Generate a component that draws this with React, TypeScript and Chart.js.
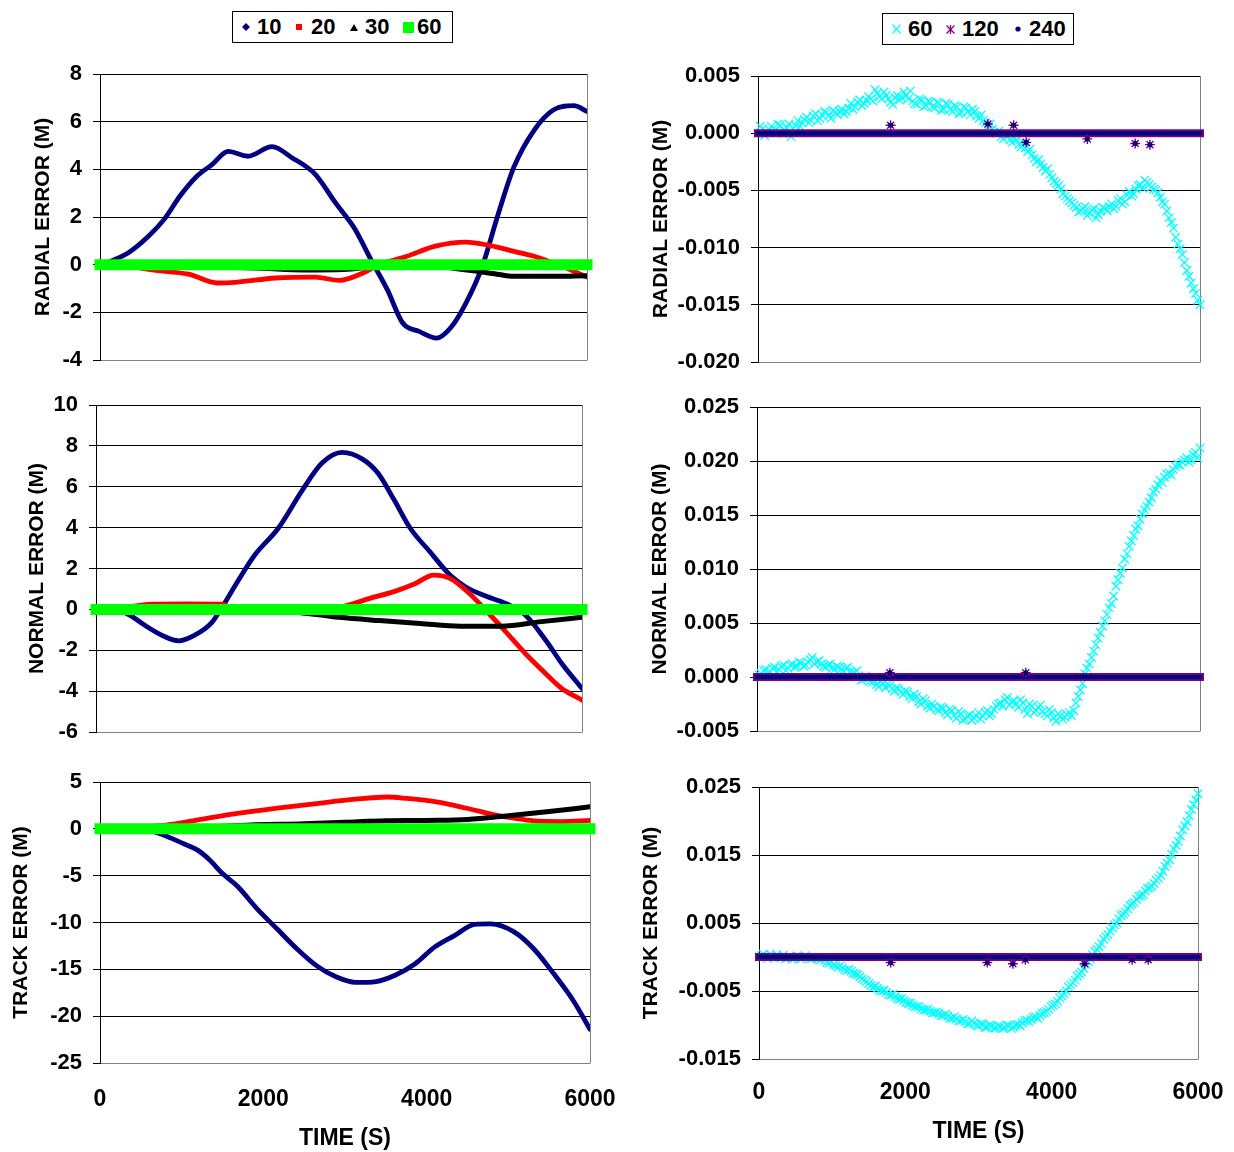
import React, { useEffect, useRef } from "react";
import { Chart, registerables } from "chart.js";

Chart.register(...registerables);

const FONT = "'Liberation Sans', Arial, Helvetica, sans-serif";

// ---------- colours ----------
const NAVY = "#000080";
const RED = "#FF0000";
const BLACK = "#000000";
const GREEN = "#00FF00";
const CYAN = "#00FFFF";
const PURPLE = "#800080";

// ---------- axis ticks ----------
const X_TICKS = [0, 2000, 4000, 6000];
const RAD_L_TICKS = [-4, -2, 0, 2, 4, 6, 8];
const NOR_L_TICKS = [-6, -4, -2, 0, 2, 4, 6, 8, 10];
const TRK_L_TICKS = [-25, -20, -15, -10, -5, 0, 5];
const RAD_R_TICKS = [-0.02, -0.015, -0.01, -0.005, 0, 0.005];
const NOR_R_TICKS = [-0.005, 0, 0.005, 0.01, 0.015, 0.02, 0.025];
const TRK_R_TICKS = [-0.015, -0.005, 0.005, 0.015, 0.025];

// ---------- left column: step sizes 10 / 20 / 30 / 60 ----------
const RAD10_T = [100, 350, 600, 790, 990, 1190, 1380, 1580, 1820, 2120, 2360, 2650, 2900, 3140, 3340, 3540, 3730, 3930, 4150, 4320, 4510, 4710, 4910, 5100, 5350, 5590, 5840, 6000];
const RAD10_V = [0.1, 0.5, 1.2, 1.9, 2.9, 3.7, 4.2, 4.75, 4.55, 4.95, 4.5, 3.8, 2.6, 1.5, 0.2, -1.05, -2.45, -2.8, -3.08, -2.65, -1.6, -0.07, 2.17, 4.1, 5.65, 6.5, 6.67, 6.43];
const RAD20_T = [300, 600, 1090, 1450, 1670, 2160, 2650, 2950, 3240, 3440, 3780, 4120, 4510, 4810, 5100, 5350, 5690, 6000];
const RAD20_V = [0, -0.2, -0.4, -0.77, -0.74, -0.56, -0.52, -0.66, -0.35, 0, 0.35, 0.77, 0.95, 0.8, 0.56, 0.35, -0.07, -0.52];
const RAD30_T = [400, 2000, 2500, 3000, 3500, 4000, 4470, 4860, 5100, 5590, 6000];
const RAD30_V = [0, -0.15, -0.22, -0.2, -0.05, -0.05, -0.2, -0.38, -0.49, -0.49, -0.46];

const NOR10_T = [200, 380, 630, 830, 1020, 1220, 1420, 1560, 1760, 1960, 2250, 2550, 2790, 3040, 3290, 3480, 3680, 3880, 4120, 4370, 4560, 4810, 5060, 5300, 5550, 5750, 6000];
const NOR10_V = [0, -0.2, -0.85, -1.3, -1.54, -1.26, -0.69, 0.13, 1.44, 2.66, 3.97, 5.85, 7.16, 7.68, 7.35, 6.67, 5.36, 3.97, 2.83, 1.68, 1.11, 0.65, 0.29, -0.28, -1.5, -2.65, -3.87];
const NOR20_T = [200, 700, 1100, 1560, 1700, 2500, 3040, 3380, 3680, 3930, 4170, 4370, 4610, 4810, 5060, 5300, 5550, 5750, 6000];
const NOR20_V = [0, 0.25, 0.27, 0.25, 0.05, 0, 0.13, 0.54, 0.87, 1.24, 1.68, 1.52, 0.78, -0.03, -1.1, -2.16, -3.14, -3.87, -4.44];
const NOR30_T = [1500, 2500, 3000, 3500, 4000, 4500, 5000, 5500, 6000];
const NOR30_V = [0, -0.15, -0.39, -0.55, -0.69, -0.82, -0.82, -0.6, -0.39];

const TRK10_T = [0, 600, 760, 1000, 1200, 1340, 1490, 1680, 1930, 2170, 2410, 2650, 2890, 3130, 3380, 3620, 3860, 4100, 4340, 4590, 4780, 5070, 5310, 5550, 5800, 6000];
const TRK10_V = [0, -0.2, -0.6, -1.5, -2.3, -3.3, -4.7, -6.1, -8.6, -10.7, -12.8, -14.6, -15.8, -16.4, -16.3, -15.6, -14.4, -12.6, -11.4, -10.2, -10.15, -11.0, -12.8, -15.4, -18.4, -21.4];
const TRK20_T = [0, 810, 1200, 1680, 2170, 2650, 3130, 3520, 3760, 4100, 4490, 4830, 5070, 5310, 5650, 6000];
const TRK20_V = [0, 0.4, 0.95, 1.65, 2.2, 2.7, 3.17, 3.4, 3.24, 2.9, 2.2, 1.5, 1.13, 0.85, 0.78, 0.9];
const TRK30_T = [1000, 1700, 2500, 3000, 3500, 4000, 4500, 5000, 5500, 6000];
const TRK30_V = [0, 0.35, 0.55, 0.7, 0.85, 0.9, 1.0, 1.4, 1.85, 2.35];

const ZERO_T = [0, 6000];
const ZERO_V = [0, 0];

// ---------- right column: step sizes 60 / 120 / 240 ----------
// run "60": samples on the minute (T60) and on the half minute (T30)
const T60 = Array.from({ length: 101 }, (_, i) => i * 60);
const T30 = Array.from({ length: 100 }, (_, i) => 30 + i * 60);

const RAD60_V = [
  0.0, 0.0004, 0.0001, 0.0006, 0.0003, 0.0007, 0.0002, 0.0008, 0.0004, 0.0011,
  0.0009, 0.0014, 0.0011, 0.0017, 0.0013, 0.0019, 0.0015, 0.002, 0.0016, 0.0021,
  0.0019, 0.0026, 0.0023, 0.0029, 0.0026, 0.0032, 0.0028, 0.0035, 0.003, 0.0033,
  0.0027, 0.0031, 0.0029, 0.0036, 0.003, 0.0028, 0.0025, 0.0029, 0.0024, 0.0027,
  0.0022, 0.0026, 0.0021, 0.0025, 0.0019, 0.0023, 0.0018, 0.0022, 0.0016, 0.0019,
  0.0013, 0.0011, 0.0006, 0.0004, 0.0, -0.0003, -0.0001, -0.0006, -0.0004, -0.001,
  -0.0008, -0.0016, -0.0019, -0.0025, -0.0027, -0.0033, -0.0036, -0.0042, -0.0046, -0.0053,
  -0.0057, -0.0061, -0.0065, -0.0068, -0.0064, -0.007, -0.0066, -0.0071, -0.0065, -0.0068,
  -0.0062, -0.0064, -0.0057, -0.006, -0.0051, -0.0053, -0.0046, -0.0048, -0.0043, -0.0047,
  -0.005, -0.0056, -0.0062, -0.0074, -0.0083, -0.0097, -0.0106, -0.012, -0.0131, -0.014, -0.015,
];
const RAD30_HALF_V = [
  0.0006, -0.0002, 0.0003, 0.0001, 0.0008, 0.0, 0.0005, -0.0003, 0.0007, 0.0006,
  0.0012, 0.0009, 0.0015, 0.0011, 0.0016, 0.0018, 0.0013, 0.0018, 0.0019, 0.0017,
  0.0022, 0.0021, 0.0027, 0.0024, 0.0029, 0.003, 0.0038, 0.0032, 0.0036, 0.003,
  0.0025, 0.0033, 0.0031, 0.0033, 0.0037, 0.0026, 0.003, 0.0023, 0.0028, 0.0023,
  0.0027, 0.002, 0.0026, 0.0021, 0.0024, 0.0017, 0.0023, 0.0019, 0.0021, 0.0015,
  0.0016, 0.0009, 0.0008, 0.0001, 0.0002, -0.0005, -0.0003, -0.0008, -0.0006, -0.0012,
  -0.0013, -0.0014, -0.0022, -0.0023, -0.003, -0.0031, -0.0039, -0.0044, -0.0049, -0.0055,
  -0.0059, -0.0063, -0.0069, -0.0066, -0.0072, -0.0067, -0.0074, -0.0068, -0.0066, -0.0064,
  -0.0066, -0.0059, -0.0062, -0.0054, -0.0055, -0.0049, -0.0045, -0.0041, -0.0045, -0.0049,
  -0.0052, -0.006, -0.0068, -0.0078, -0.0091, -0.0101, -0.0113, -0.0125, -0.0136, -0.0146,
];
const NOR60_V = [
  0.0, 0.0003, 0.0007, 0.0005, 0.0009, 0.0007, 0.0011, 0.0008, 0.0012, 0.001,
  0.0013, 0.0011, 0.0016, 0.0012, 0.0015, 0.001, 0.0011, 0.0008, 0.001, 0.0007,
  0.0008, 0.0005, 0.0004, 0.0001, -0.0002, -0.0001, -0.0005, -0.0007, -0.0004, -0.001,
  -0.0008, -0.0013, -0.0011, -0.0016, -0.0014, -0.002, -0.0018, -0.0025, -0.0022, -0.0029,
  -0.0027, -0.0031, -0.0029, -0.0035, -0.0031, -0.0038, -0.0034, -0.0039, -0.0035, -0.0038,
  -0.0033, -0.0036, -0.0031, -0.0034, -0.0027, -0.0024, -0.0021, -0.0026, -0.0022, -0.0028,
  -0.0024, -0.0034, -0.0027, -0.0031, -0.0026, -0.0034, -0.003, -0.0038, -0.0034, -0.0039,
  -0.0035, -0.0036, -0.0024, -0.0012, 0.0003, 0.0012, 0.0024, 0.0036, 0.0047, 0.0058,
  0.0068, 0.0084, 0.0096, 0.0109, 0.0121, 0.0131, 0.014, 0.0151, 0.0158, 0.0166,
  0.0174, 0.0182, 0.0185, 0.0189, 0.0192, 0.0197, 0.0199, 0.0203, 0.0201, 0.0208, 0.0212,
];
const NOR30_HALF_V = [
  0.0002, 0.0006, 0.0003, 0.0008, 0.0005, 0.001, 0.0006, 0.0011, 0.0009, 0.0014,
  0.001, 0.0014, 0.0018, 0.0014, 0.0012, 0.0009, 0.0012, 0.0007, 0.0009, 0.0006,
  0.0009, 0.0003, 0.0006, -0.0003, 0.0001, -0.0004, -0.0003, -0.0009, -0.0006, -0.0007,
  -0.0011, -0.001, -0.0014, -0.0013, -0.0018, -0.0016, -0.0023, -0.002, -0.0027, -0.0025,
  -0.003, -0.0028, -0.0033, -0.003, -0.0036, -0.0032, -0.004, -0.0036, -0.004, -0.0036,
  -0.0039, -0.0033, -0.0036, -0.003, -0.0025, -0.0027, -0.0019, -0.0023, -0.0025, -0.0021,
  -0.003, -0.0025, -0.0033, -0.0028, -0.0032, -0.0036, -0.0033, -0.0041, -0.0036, -0.0037,
  -0.0033, -0.0031, -0.0018, -0.0006, 0.0008, 0.0018, 0.003, 0.0041, 0.0052, 0.0064,
  0.0075, 0.009, 0.0101, 0.0114, 0.0126, 0.0137, 0.0146, 0.0155, 0.0162, 0.0171,
  0.0178, 0.018, 0.0188, 0.0187, 0.0195, 0.0196, 0.0201, 0.0199, 0.0206, 0.0203,
];
const TRK60_V = [
  0.0, 0.0004, -0.0002, 0.0002, 0.0003, -0.0001, -0.0003, 0.0001, -0.0002, 0.0001,
  -0.0001, 0.0, -0.0003, -0.0001, -0.0004, -0.0005, -0.0009, -0.0011, -0.0015, -0.0016,
  -0.002, -0.0021, -0.0025, -0.0029, -0.0034, -0.0039, -0.0044, -0.0046, -0.005, -0.0052,
  -0.0056, -0.0058, -0.0062, -0.0064, -0.0068, -0.0071, -0.0073, -0.0076, -0.0078, -0.008,
  -0.0082, -0.0083, -0.0086, -0.0087, -0.009, -0.0091, -0.0094, -0.0095, -0.0098, -0.0097,
  -0.0101, -0.0099, -0.0103, -0.0101, -0.0104, -0.0102, -0.0104, -0.0101, -0.0103, -0.0099,
  -0.0097, -0.0093, -0.0092, -0.0088, -0.0086, -0.0082, -0.0077, -0.0071, -0.0065, -0.0057,
  -0.005, -0.0041, -0.0034, -0.0025, -0.0017, -0.0007, 0.0003, 0.0011, 0.002, 0.003,
  0.0038, 0.0047, 0.0056, 0.0063, 0.0071, 0.0078, 0.0085, 0.009, 0.0097, 0.0102,
  0.0108, 0.0116, 0.0126, 0.0138, 0.0151, 0.0164, 0.0178, 0.0193, 0.0208, 0.0224, 0.024,
];
const TRK30_HALF_V = [
  0.0002, 0.0, 0.0004, -0.0001, 0.0, 0.0003, -0.0001, -0.0003, 0.0001, -0.0003,
  0.0002, -0.0002, 0.0, -0.0003, -0.0002, -0.0008, -0.0007, -0.0013, -0.0013, -0.0019,
  -0.0018, -0.0024, -0.0026, -0.0032, -0.0036, -0.0042, -0.0043, -0.0049, -0.0049, -0.0055,
  -0.0055, -0.0061, -0.0061, -0.0067, -0.0068, -0.0073, -0.0073, -0.0078, -0.0077, -0.0082,
  -0.0081, -0.0086, -0.0084, -0.009, -0.0088, -0.0094, -0.0092, -0.0098, -0.0094, -0.01,
  -0.0098, -0.0104, -0.01, -0.0105, -0.0101, -0.0105, -0.01, -0.0105, -0.01, -0.0101,
  -0.0094, -0.0095, -0.0089, -0.009, -0.0083, -0.008, -0.0073, -0.0069, -0.006, -0.0054,
  -0.0044, -0.0038, -0.0028, -0.0022, -0.0011, -0.0003, 0.0008, 0.0015, 0.0026, 0.0033,
  0.0043, 0.005, 0.0061, 0.0066, 0.0076, 0.008, 0.0089, 0.0092, 0.0101, 0.0104,
  0.0113, 0.012, 0.0133, 0.0143, 0.0159, 0.017, 0.0187, 0.0199, 0.0217, 0.0231,
];
// isolated off-zero samples of the 120 s and 240 s runs
const RAD_OUT_T = [1800, 3120, 3470, 3640, 4470, 5120, 5320];
const RAD_OUT_V = [0.0007, 0.0008, 0.0007, -0.0008, -0.0005, -0.0009, -0.001];
const NOR_OUT_T = [1800, 3640];
const NOR_OUT_V = [0.0004, 0.0004];
const TRK_OUT_T = [1800, 3120, 3470, 3640, 4450, 5100, 5320];
const TRK_OUT_V = [-0.0008, -0.0008, -0.001, -0.0004, -0.001, -0.0004, -0.0004];

// ---------- helpers ----------
const pts = (t: number[], v: number[]) => t.map((x, i) => ({ x, y: v[i] }));

function lineDs(label: string, t: number[], v: number[], color: string, width: number, order: number, extra: any = {}) {
  return {
    label,
    data: pts(t, v),
    showLine: true,
    borderColor: color,
    backgroundColor: color,
    borderWidth: width,
    pointRadius: 0,
    pointHoverRadius: 0,
    tension: 0.4,
    cubicInterpolationMode: "monotone",
    borderCapStyle: "round",
    borderJoinStyle: "round",
    order,
    ...extra,
  };
}

function markDs(label: string, t: number[], v: number[], color: string, style: string, radius: number, order: number, extra: any = {}) {
  return {
    label,
    data: pts(t, v),
    showLine: false,
    borderColor: color,
    backgroundColor: color,
    pointStyle: style,
    pointRadius: radius,
    pointHoverRadius: radius,
    pointBorderWidth: 1.2,
    order,
    ...extra,
  };
}

const leftSets = (t10: number[], v10: number[], t20: number[], v20: number[], t30: number[], v30: number[]) => [
  lineDs("10", t10, v10, NAVY, 4.8, 3),
  lineDs("20", t20, v20, RED, 4.8, 2),
  lineDs("30", t30, v30, BLACK, 5, 1),
  lineDs("60", ZERO_T, ZERO_V, GREEN, 11, 0, { tension: 0, borderCapStyle: "square", clip: 10 }),
];

const rightSets = (v60: number[], v30: number[], ot: number[], ov: number[]) => [
  markDs("60", T60, v60, CYAN, "crossRot", 6, 6, { pointBorderWidth: 1.3, clip: 10 }),
  markDs("60 (half-minute)", T30, v30, CYAN, "crossRot", 6, 5, { pointBorderWidth: 1.3, clip: 10 }),
  lineDs("120", ZERO_T, ZERO_V, PURPLE, 8, 4, { tension: 0, borderCapStyle: "square", clip: 6 }),
  lineDs("240", ZERO_T, ZERO_V, NAVY, 4.5, 3, { tension: 0, borderCapStyle: "square", clip: 6 }),
  markDs("120 samples", ot, ov, PURPLE, "star", 5, 2, { pointBorderWidth: 1.4, clip: 8 }),
  markDs("240 samples", ot, ov, NAVY, "circle", 2.5, 1, { pointBorderWidth: 0, clip: 8 }),
];

type Spec = {
  left: number;
  top: number;
  width: number;
  height: number;
  yWidth: number;
  padRight: number;
  yMin: number;
  yMax: number;
  yTicks: number[];
  decimals: number;
  title: string;
  titlePad: number;
  xAxis?: { height: number; labelLine: number; titlePadBottom: number };
  datasets: any[];
};

const borderPlugin = {
  id: "plotBorder",
  beforeDatasetsDraw(chart: any) {
    const { ctx, chartArea } = chart;
    ctx.save();
    ctx.strokeStyle = "#808080";
    ctx.lineWidth = 1;
    const x = Math.round(chartArea.right) + 0.5;
    ctx.beginPath();
    ctx.moveTo(x, chartArea.top);
    ctx.lineTo(x, chartArea.bottom + 0.5);
    ctx.stroke();
    ctx.restore();
  },
};

function buildConfig(s: Spec): any {
  return {
    type: "scatter",
    data: { datasets: s.datasets },
    options: {
      animation: false,
      responsive: false,
      maintainAspectRatio: false,
      devicePixelRatio: 1,
      events: [],
      layout: { padding: { left: 0, top: 0, right: s.padRight, bottom: 0 } },
      plugins: { legend: { display: false }, tooltip: { enabled: false } },
      scales: {
        x: {
          type: "linear",
          min: 0,
          max: 6000,
          display: !!s.xAxis,
          afterBuildTicks: (sc: any) => {
            sc.ticks = X_TICKS.map((value) => ({ value }));
          },
          afterFit: (sc: any) => {
            if (s.xAxis) sc.height = s.xAxis.height;
          },
          grid: { display: false, drawTicks: false, tickLength: 0 },
          border: { display: false },
          ticks: {
            font: { family: FONT, size: 23, weight: "bold", lineHeight: s.xAxis ? s.xAxis.labelLine + "px" : 1.2 },
            color: "#000",
            padding: 0,
            maxRotation: 0,
            autoSkip: false,
            callback: (v: any) => String(v),
          },
          title: {
            display: !!s.xAxis,
            text: "TIME (S)",
            color: "#000",
            font: { family: FONT, size: 23, weight: "bold" },
            padding: { top: 0, bottom: s.xAxis ? s.xAxis.titlePadBottom : 0 },
          },
        },
        y: {
          type: "linear",
          min: s.yMin,
          max: s.yMax,
          afterBuildTicks: (sc: any) => {
            sc.ticks = s.yTicks.map((value) => ({ value }));
          },
          afterFit: (sc: any) => {
            sc.width = s.yWidth;
          },
          grid: {
            color: (c: any) => (c.tick && Math.abs(c.tick.value - s.yMin) < 1e-9 ? "#808080" : "#000"),
            lineWidth: 1,
            drawTicks: true,
            tickLength: 7,
            tickColor: "#000",
          },
          border: { display: true, color: "#000", width: 1 },
          ticks: {
            font: { family: FONT, size: 22, weight: "bold", lineHeight: 1 },
            color: "#000",
            padding: 11,
            autoSkip: false,
            callback: (v: any) => Number(v).toFixed(s.decimals),
          },
          title: {
            display: true,
            text: s.title,
            color: "#000",
            font: { family: FONT, size: 21, weight: "bold" },
            padding: { top: s.titlePad, bottom: 0 },
          },
        },
      },
    },
    plugins: [borderPlugin],
  };
}

// y-axis tick labels reserve 22 px above and below the plot (half label + padding)
const SPECS: Spec[] = [
  {
    left: 0, top: 52, width: 625, height: 330, yWidth: 100, padRight: 38,
    yMin: -4, yMax: 8, yTicks: RAD_L_TICKS, decimals: 0, title: "RADIAL ERROR (M)", titlePad: 30.4,
    datasets: leftSets(RAD10_T, RAD10_V, RAD20_T, RAD20_V, RAD30_T, RAD30_V),
  },
  {
    left: 0, top: 383, width: 625, height: 371, yWidth: 96, padRight: 43,
    yMin: -6, yMax: 10, yTicks: NOR_L_TICKS, decimals: 0, title: "NORMAL ERROR (M)", titlePad: 24.4,
    datasets: leftSets(NOR10_T, NOR10_V, NOR20_T, NOR20_V, NOR30_T, NOR30_V),
  },
  {
    left: 0, top: 760, width: 625, height: 392, yWidth: 100, padRight: 35,
    yMin: -25, yMax: 5, yTicks: TRK_L_TICKS, decimals: 0, title: "TRACK ERROR (M)", titlePad: 8.4,
    xAxis: { height: 89, labelLine: 74, titlePadBottom: 0 },
    datasets: leftSets(TRK10_T, TRK10_V, TRK20_T, TRK20_V, TRK30_T, TRK30_V),
  },
  {
    left: 620, top: 54, width: 614, height: 330, yWidth: 138, padRight: 34,
    yMin: -0.02, yMax: 0.005, yTicks: RAD_R_TICKS, decimals: 3, title: "RADIAL ERROR (M)", titlePad: 28.4,
    datasets: rightSets(RAD60_V, RAD30_HALF_V, RAD_OUT_T, RAD_OUT_V),
  },
  {
    left: 620, top: 385, width: 614, height: 368, yWidth: 137, padRight: 34,
    yMin: -0.005, yMax: 0.025, yTicks: NOR_R_TICKS, decimals: 3, title: "NORMAL ERROR (M)", titlePad: 27.4,
    datasets: rightSets(NOR60_V, NOR30_HALF_V, NOR_OUT_T, NOR_OUT_V),
  },
  {
    left: 620, top: 765, width: 614, height: 387, yWidth: 139, padRight: 36,
    yMin: -0.015, yMax: 0.025, yTicks: TRK_R_TICKS, decimals: 3, title: "TRACK ERROR (M)", titlePad: 18.4,
    xAxis: { height: 93, labelLine: 68, titlePadBottom: 7 },
    datasets: rightSets(TRK60_V, TRK30_HALF_V, TRK_OUT_T, TRK_OUT_V),
  },
];

function Panel({ spec }: { spec: Spec }) {
  const ref = useRef<HTMLCanvasElement | null>(null);
  useEffect(() => {
    if (!ref.current) return;
    const chart = new Chart(ref.current, buildConfig(spec));
    return () => chart.destroy();
  }, [spec]);
  return (
    <canvas
      ref={ref}
      width={spec.width}
      height={spec.height}
      style={{ position: "absolute", left: spec.left, top: spec.top, width: spec.width, height: spec.height }}
    />
  );
}

// ---------- legends (HTML) ----------
const textStyle = (left: number): React.CSSProperties => ({
  position: "absolute",
  left,
  top: 0,
  lineHeight: "30px",
  fontFamily: FONT,
  fontWeight: "bold",
  fontSize: 22,
  color: "#000",
  whiteSpace: "nowrap",
});

function Mark({ left, w, h, children }: { left: number; w: number; h: number; children: React.ReactNode }) {
  return (
    <svg width={w} height={h} style={{ position: "absolute", left, top: (30 - h) / 2 }}>
      {children}
    </svg>
  );
}

function LeftLegend() {
  return (
    <div style={{ position: "absolute", left: 232, top: 11, width: 221, height: 32, boxSizing: "border-box", border: "1px solid #000", background: "#fff" }}>
      <Mark left={9} w={8} h={8}><polygon points="4,0 8,4 4,8 0,4" fill={NAVY} /></Mark>
      <span style={textStyle(24)}>10</span>
      <Mark left={63} w={6} h={6}><rect x={0} y={0} width={6} height={6} fill={RED} /></Mark>
      <span style={textStyle(78)}>20</span>
      <Mark left={117} w={8} h={7}><polygon points="4,0 8,7 0,7" fill={BLACK} /></Mark>
      <span style={textStyle(132)}>30</span>
      <Mark left={170} w={11} h={11}><rect x={0} y={0} width={11} height={11} fill={GREEN} /></Mark>
      <span style={textStyle(184)}>60</span>
    </div>
  );
}

function RightLegend() {
  return (
    <div style={{ position: "absolute", left: 882, top: 13, width: 192, height: 32, boxSizing: "border-box", border: "1px solid #000", background: "#fff" }}>
      <Mark left={9} w={9} h={10}>
        <line x1={0.5} y1={0.5} x2={8.5} y2={9.5} stroke={CYAN} strokeWidth={1.2} />
        <line x1={8.5} y1={0.5} x2={0.5} y2={9.5} stroke={CYAN} strokeWidth={1.2} />
      </Mark>
      <span style={textStyle(25)}>60</span>
      <Mark left={63} w={9} h={9}>
        <line x1={0.5} y1={0.5} x2={8.5} y2={8.5} stroke={PURPLE} strokeWidth={1.3} />
        <line x1={8.5} y1={0.5} x2={0.5} y2={8.5} stroke={PURPLE} strokeWidth={1.3} />
        <line x1={4.5} y1={0} x2={4.5} y2={9} stroke={PURPLE} strokeWidth={1.3} />
      </Mark>
      <span style={textStyle(79)}>120</span>
      <Mark left={132} w={6} h={6}><circle cx={3} cy={3} r={2.6} fill={NAVY} /></Mark>
      <span style={textStyle(146)}>240</span>
    </div>
  );
}

export default function App() {
  return (
    <div style={{ position: "absolute", left: 0, top: 0, width: 1234, height: 1152, background: "#fff", overflow: "hidden" }}>
      {SPECS.map((s, i) => (
        <Panel key={i} spec={s} />
      ))}
      <LeftLegend />
      <RightLegend />
    </div>
  );
}
